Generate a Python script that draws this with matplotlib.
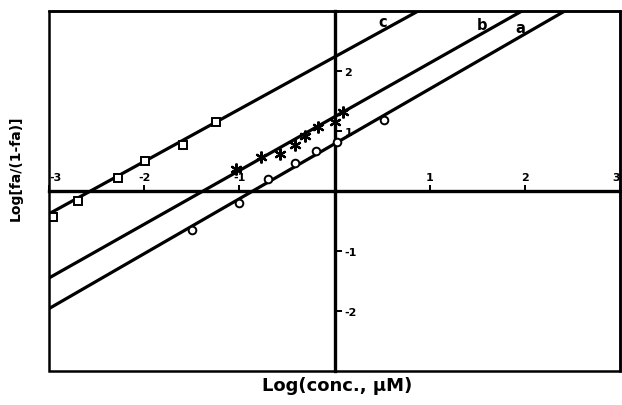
import matplotlib
matplotlib.use("Agg")
import matplotlib.pyplot as plt
from matplotlib.patches import Rectangle

# ---- data ----
# series a (open circles)
a_x = [-1.50, -1.00, -0.70, -0.42, -0.19, 0.03, 0.52]
a_y = [-0.65, -0.20, 0.20, 0.47, 0.67, 0.82, 1.18]
# series b (asterisks)
b_x = [-1.03, -0.77, -0.57, -0.42, -0.31, -0.17, 0.00, 0.09]
b_y = [0.37, 0.56, 0.62, 0.76, 0.92, 1.06, 1.15, 1.31]
# series c (open squares)
c_x = [-2.96, -2.70, -2.28, -1.99, -1.59, -1.24]
c_y = [-0.43, -0.17, 0.22, 0.50, 0.77, 1.15]

# fitted lines (start / end points)
line_names = ["a", "b", "c"]
line_x_start = [-3.0, -3.0, -3.0]
line_y_start = [-1.96, -1.45, -0.38]
line_x_end = [2.42, 1.97, 0.88]
line_y_end = [3.0, 3.0, 3.0]
line_label_x = [1.95, 1.55, 0.51]
line_label_y = [2.73, 2.78, 2.82]

xticks = [-3, -2, -1, 1, 2, 3]
xtick_labels = ["-3", "-2", "-1", "1", "2", "3"]
yticks = [-2, -1, 1, 2]
ytick_labels = ["-2", "-1", "1", "2"]

x_label = "Log(conc., \u03bcM)"
y_label = "Log[fa/(1-fa)]"

# ---- figure ----
plt.rcParams["font.family"] = ["DejaVu Sans"]
plt.rcParams["font.weight"] = "bold"

fig = plt.figure(figsize=(6.22, 4.06), dpi=100)
ax = fig.add_axes([49 / 622, 34 / 406, 571 / 622, 360 / 406])
ax.set_xlim(-3, 3)
ax.set_ylim(-3, 3)

# crossing axes through origin
ax.spines["left"].set_position(("data", 0))
ax.spines["bottom"].set_position(("data", 0))
for s in ["left", "bottom"]:
    ax.spines[s].set_linewidth(2.4)
for s in ["top", "right"]:
    ax.spines[s].set_linewidth(1.8)
ax.add_patch(Rectangle((0, 0), 1, 1, transform=ax.transAxes, fill=False,
                       lw=1.8, ec="black", clip_on=False, zorder=5))

ax.set_xticks(xticks, labels=xtick_labels)
ax.set_yticks(yticks, labels=ytick_labels)
ax.tick_params(axis="x", direction="in", length=4, width=1.4, pad=-13.5,
               labelsize=8)
ax.tick_params(axis="y", direction="in", length=5, width=1.4, pad=-7,
               labelsize=8)
for lab in ax.get_yticklabels():
    lab.set_horizontalalignment("left")
xlabs = ax.get_xticklabels()
xlabs[0].set_horizontalalignment("left")
xlabs[-1].set_horizontalalignment("right")
for lab in xlabs + ax.get_yticklabels():
    lab.set_fontweight("bold")

# lines
for name, x0, y0, x1, y1, lx, ly in zip(line_names, line_x_start, line_y_start,
                                         line_x_end, line_y_end,
                                         line_label_x, line_label_y):
    ax.plot([x0, x1], [y0, y1], color="black", lw=2.3, solid_capstyle="butt")
    ax.text(lx, ly, name, fontsize=10.5, fontweight="bold", ha="center",
            va="center")

# markers
ax.plot(a_x, a_y, linestyle="none", marker="o", ms=5.5, mfc="white",
        mec="black", mew=1.4, zorder=4)
ax.plot(b_x, b_y, linestyle="none", marker=(6, 2, 0), ms=8.5, mec="black",
        mew=1.6, zorder=4)
ax.plot(c_x, c_y, linestyle="none", marker="s", ms=5.5, mfc="white",
        mec="black", mew=1.4, zorder=4)

fig.text(337 / 622, 1 - 386 / 406, x_label, fontsize=13, fontweight="bold",
         ha="center", va="center")
fig.text(16 / 622, 1 - 168 / 406, y_label, fontsize=10, fontweight="bold",
         ha="center", va="center", rotation=90)

fig.savefig("out.png", dpi=100, facecolor="white")
